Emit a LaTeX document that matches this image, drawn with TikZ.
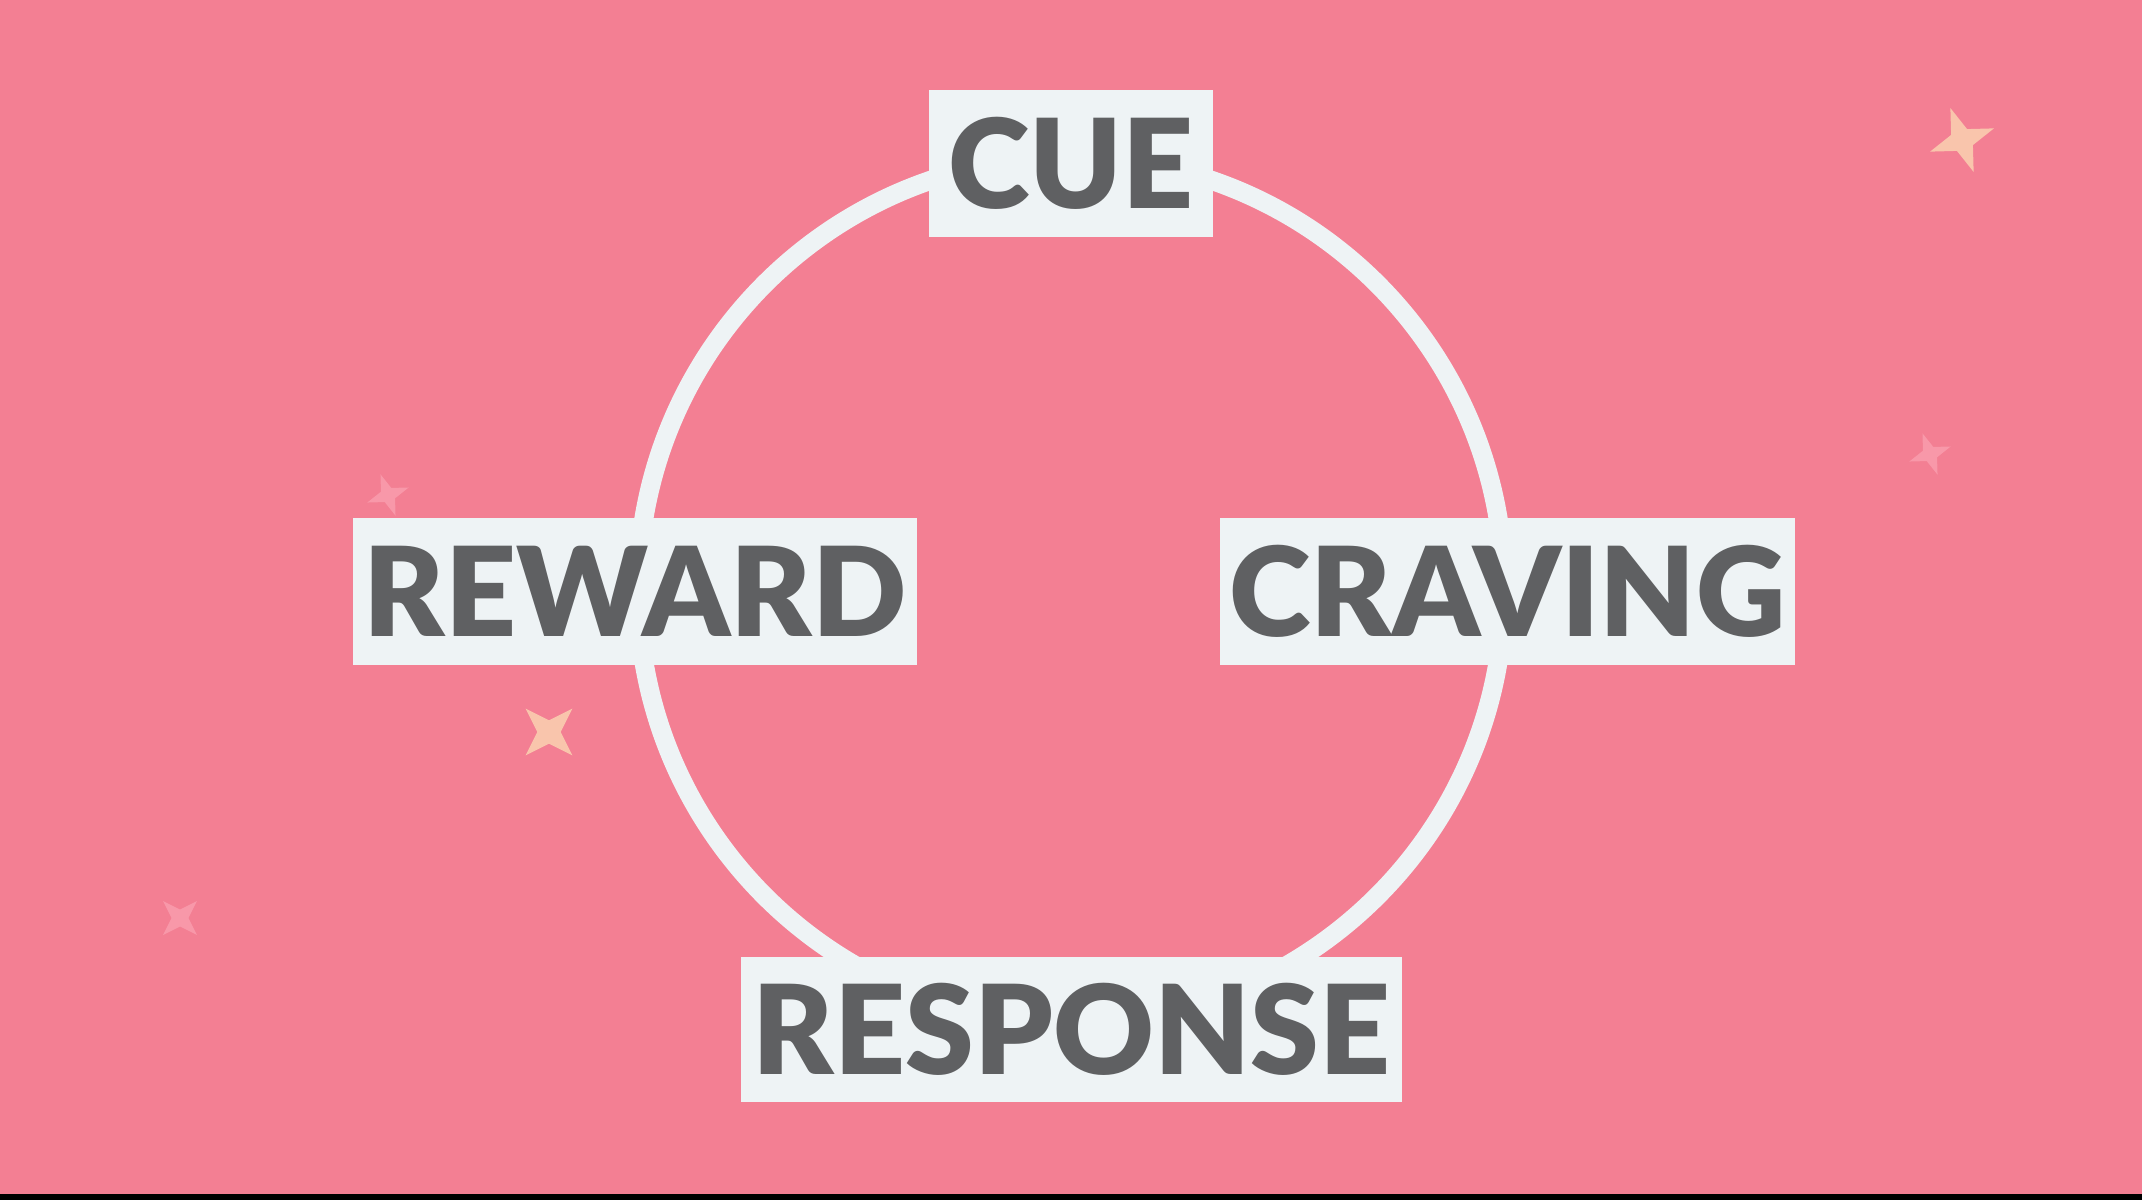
\documentclass[tikz,border=0pt]{standalone}
\usepackage{fontspec}
\setmainfont{Lato}
\newfontfamily\labelfont{Lato Black}
\definecolor{bgpink}{HTML}{F37F93}
\definecolor{boxwhite}{HTML}{EEF3F5}
\definecolor{textgray}{HTML}{5F6062}
\definecolor{peach}{HTML}{F9C5AC}
\definecolor{softpink}{HTML}{F898A9}
\tikzset{
  labelbox/.style={rectangle, fill=boxwhite, inner sep=0pt, text=textgray,
    font=\labelfont\fontsize{124}{124}\selectfont},
  sparkle/.pic={
    \fill[rounded corners=0.05] (0,-1) -- (0.25,-0.25) -- (1,0) -- (0.25,0.25) -- (0,1)
          -- (-0.25,0.25) -- (-1,0) -- (-0.25,-0.25) -- cycle;
  },
  ring/.style={draw=boxwhite, line width=19pt}
}
\begin{document}
\begin{tikzpicture}[x=1pt,y=-1pt]
  \useasboundingbox (0,0) rectangle (2142,1200);
  \fill[bgpink] (0,0) rectangle (2142,1200);
  \fill[black] (0,1194) rectangle (2142,1200);

  % sparkles
  \pic[color=peach, scale=34, rotate=20] at (1962,140) {sparkle};
  \pic[color=softpink, scale=22, rotate=20] at (1930,454) {sparkle};
  \pic[color=softpink, scale=22, rotate=20] at (388,495) {sparkle};
  \pic[color=peach, scale=33, rotate=45] at (549,732) {sparkle};
  \pic[color=softpink, scale=24, rotate=45] at (180,918) {sparkle};

  % ring
  \coordinate (centre) at (1071,590);
  \draw[ring] (centre) circle[radius=433];

  % labels
  \node[labelbox, minimum width=284, minimum height=147] (cue) at (1071,163.5) {CUE};
  \node[labelbox, minimum width=564, minimum height=147] (reward) at (635,591.5) {REWARD};
  \node[labelbox, minimum width=575, minimum height=147] (craving) at (1507.5,591.5) {CRAVING};
  \node[labelbox, minimum width=661, minimum height=145] (response) at (1071.5,1029.5) {RESPONSE};
\end{tikzpicture}
\end{document}
